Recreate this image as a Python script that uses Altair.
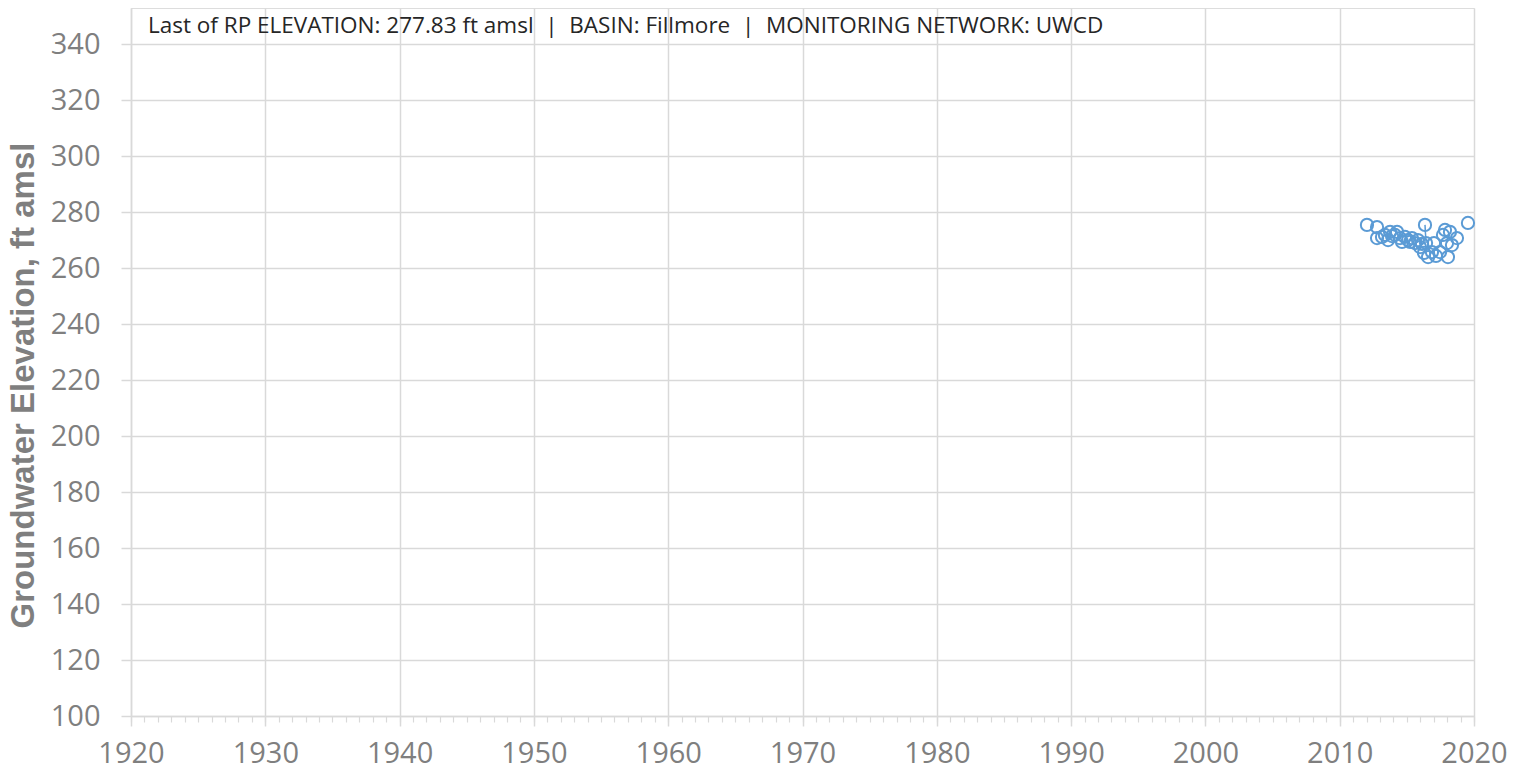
import altair as alt
import pandas as pd

# Measurement dates (decimal years) and groundwater elevations (ft amsl)
years = [2012.03, 2012.78, 2012.78, 2013.15, 2013.37, 2013.60, 2013.75, 2013.90,
         2014.12, 2014.27, 2014.49, 2014.64, 2014.86, 2015.09, 2015.24, 2015.38,
         2015.61, 2015.83, 2015.98, 2016.13, 2016.28, 2016.35, 2016.43, 2016.58,
         2016.87, 2017.02, 2017.17, 2017.47, 2017.69, 2017.84, 2017.99, 2018.06,
         2018.21, 2018.36, 2018.73, 2019.55]
elev = [275.4, 274.6, 270.7, 271.1, 271.8, 270.0, 272.9, 271.4,
        271.8, 272.9, 270.7, 269.3, 271.1, 270.0, 269.3, 270.7,
        268.9, 270.0, 267.5, 268.6, 265.4, 275.4, 268.9, 263.9,
        265.7, 268.9, 264.3, 265.7, 271.8, 273.6, 268.9, 263.9,
        272.9, 268.2, 270.7, 276.1]
# line segments: points sharing a segment id are joined by a line
segment = list(range(len(years)))
segment[22] = segment[21]

x_major = list(range(1920, 2021, 10))
x_minor = list(range(1920, 2021, 1))
y_ticks = list(range(100, 341, 20))
NB = "\u00a0"
header = ("Last of RP ELEVATION: 277.83 ft amsl" + NB * 2 + "|" + NB * 2 + "BASIN: Fillmore"
          + NB * 2 + "|" + NB * 2 + "MONITORING NETWORK: UWCD")

df = pd.DataFrame({"year": years, "elev": elev, "seg": segment})

BLUE = "#5b9bd5"
GRAY_T = "#7f7f7f"
GRID = "#d9d9d9"

x_scale = alt.Scale(domain=[1920, 2020], nice=False, zero=False)
y_scale = alt.Scale(domain=[100, 352.86], nice=False, zero=False)

y_axis = alt.Axis(values=y_ticks, title="Groundwater Elevation, ft amsl",
                  titleFont="Liberation Sans", titleFontSize=33, titleFontWeight="bold",
                  titleColor=GRAY_T, titlePadding=10, titleY=377,
                  labelFont="Open Sans", labelFontSize=29, labelColor=GRAY_T,
                  labelPadding=21, tickSize=10, tickColor=GRID, tickWidth=1.5,
                  domainColor=GRID, domainWidth=1.5,
                  gridColor=GRID, gridWidth=1.5, labelFlush=False)

x_axis_major = alt.Axis(values=x_major, format="d", title=None, orient="bottom",
                        labelFont="Open Sans", labelFontSize=29, labelColor=GRAY_T,
                        labelPadding=13, tickSize=10, tickColor=GRID, tickWidth=1.5,
                        domainColor=GRID, domainWidth=1.5, gridColor=GRID, gridWidth=1.5,
                        labelFlush=False)
x_axis_minor = alt.Axis(values=x_minor, labels=False, title=None, orient="bottom",
                        tickSize=6, tickColor=GRID, tickWidth=1.2, domain=False, grid=False)

base = alt.Chart(df)

points = base.mark_point(shape="circle", filled=False, size=150, strokeWidth=2,
                         color=BLUE, opacity=1).encode(
    x=alt.X("year:Q", scale=x_scale, axis=x_axis_major),
    y=alt.Y("elev:Q", scale=y_scale, axis=y_axis),
)

lines = base.mark_line(color=BLUE, strokeWidth=1.5).encode(
    x=alt.X("year:Q", scale=x_scale, axis=x_axis_minor),
    y=alt.Y("elev:Q", scale=y_scale, axis=y_axis),
    detail="seg:N",
)

text = alt.Chart(pd.DataFrame({"t": [header]})).mark_text(
    align="left", baseline="middle", font="Open Sans", fontSize=22.5, color="#262626"
).encode(x=alt.value(17), y=alt.value(18), text="t:N")

chart = alt.layer(points, lines, text).resolve_axis(x="independent").properties(
    width=1343, height=708,
    autosize=alt.AutoSizeParams(type="none"),
    padding={"left": 123, "top": 0, "right": 45, "bottom": 52},
).configure_view(stroke="#bfbfbf", strokeWidth=1.5).configure(background="white")

chart.save("out.html", embed_options={"renderer": "svg", "actions": False})
